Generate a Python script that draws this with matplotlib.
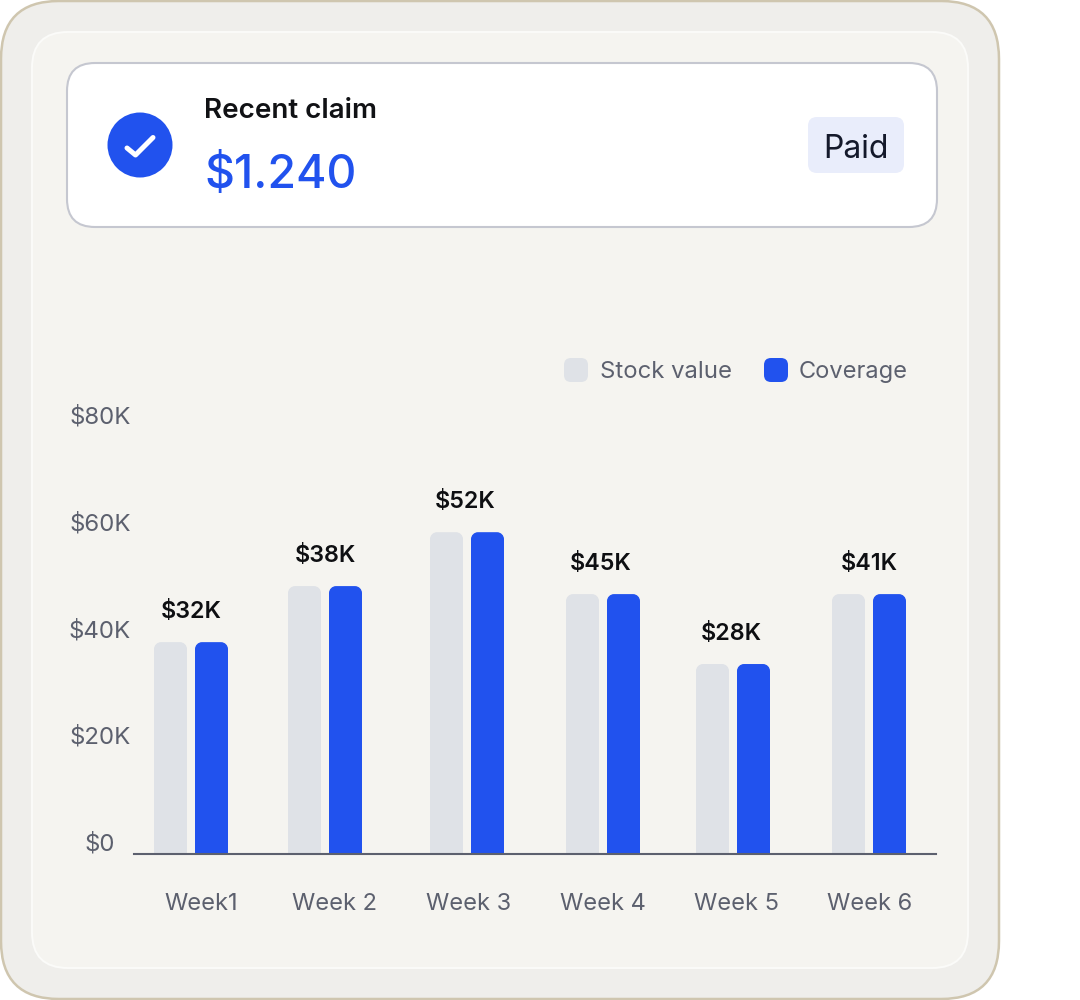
import matplotlib
matplotlib.use('Agg')
import matplotlib.pyplot as plt
from matplotlib.patches import FancyBboxPatch, Circle, PathPatch
from matplotlib.path import Path
from matplotlib.transforms import ScaledTranslation

# chart values
weeks = ['Week1', 'Week 2', 'Week 3', 'Week 4', 'Week 5', 'Week 6']
stock_value = [39.6, 50.1, 60.2, 48.6, 35.5, 48.6]
coverage = [39.6, 50.1, 60.2, 48.6, 35.5, 48.6]
bar_labels = ['$32K', '$38K', '$52K', '$45K', '$28K', '$41K']
y_ticks = [0, 20, 40, 60, 80]
y_labels = ['$0', '$20K', '$40K', '$60K', '$80K']

# layout in pixels
W, H = 1080, 1000
bar_centre_x = [191, 325, 467, 603, 733, 869]
value_label_x = [191, 325, 465, 601, 731, 869]
week_label_x = [201, 335, 468.5, 602.5, 736, 869.5]
bar_w = 33
gap = 8
base_y = 853.5
px_per_k = 5.3375
y_max = 85

BLUE = '#2152EE'
GREY_BAR = '#DFE2E7'
TEXT_GREY = '#5C606E'
FONT = 'Inter'

plt.rcParams['font.family'] = [FONT, 'DejaVu Sans']

fig = plt.figure(figsize=(W / 100, H / 100), dpi=100, facecolor='white')

# background cards, drawn in pixel coordinates
bg = fig.add_axes([0, 0, 1, 1])
bg.set_xlim(0, W)
bg.set_ylim(H, 0)
bg.axis('off')


def card(x0, y0, x1, y1, r, face, edge, lw=1.5):
    bg.add_patch(FancyBboxPatch((x0 + r, y0 + r), x1 - x0 - 2 * r, y1 - y0 - 2 * r,
                                boxstyle='round,pad=%f,rounding_size=%f' % (r, r),
                                fc=face, ec=edge, lw=lw))


card(1, 1, 999, 999, 58, '#EFEEEB', '#CFC6AF', 1.8)
card(32, 32, 968, 968, 36, '#F5F4F0', '#FBFBF9', 1.4)
card(67, 63, 937, 227, 28, 'white', '#C5C7D0', 1.5)
card(808, 117, 904, 173, 9, '#E9EDFB', 'none', 0)

# check icon
bg.add_patch(Circle((140, 145), 32.5, fc=BLUE, ec='none'))
bg.plot([127, 135.5, 153], [148, 155, 137.5], color='white', lw=3.6,
        solid_capstyle='round', solid_joinstyle='round')

bg.text(204, 111, 'Recent claim', fontsize=20, fontweight='semibold', color='#111215',
        ha='left', va='center')
bg.text(204, 176, '$1.240', fontsize=33.4, fontweight='medium', color=BLUE, ha='left', va='center')
bg.text(856, 149, 'Paid', fontsize=23, color='#14192B', ha='center', va='center')

# legend
card(564, 358, 588, 382, 7, GREY_BAR, 'none', 0)
card(764, 358, 788, 382, 7, BLUE, 'none', 0)
bg.text(600, 372, 'Stock value', fontsize=17.2, color=TEXT_GREY, ha='left', va='center')
bg.text(799, 372, 'Coverage', fontsize=17, color=TEXT_GREY, ha='left', va='center')

# chart axes, x runs in pixels so the uneven bar groups stay put
ax_left, ax_right = 134, 936
ax_h = y_max * px_per_k
ax = fig.add_axes([ax_left / W, (H - base_y) / H, (ax_right - ax_left) / W, ax_h / H])
ax.patch.set_alpha(0)
ax.set_xlim(ax_left, ax_right)
ax.set_ylim(0, y_max)


def rounded_bar(x0, width, value, color, r=7):
    ry = r / px_per_k
    k = 0.45
    verts = [(x0, 0), (x0, value - ry),
             (x0, value - ry * k), (x0 + r * k, value), (x0 + r, value),
             (x0 + width - r, value),
             (x0 + width - r * k, value), (x0 + width, value - ry * k), (x0 + width, value - ry),
             (x0 + width, 0), (x0, 0)]
    codes = [Path.MOVETO, Path.LINETO,
             Path.CURVE4, Path.CURVE4, Path.CURVE4,
             Path.LINETO,
             Path.CURVE4, Path.CURVE4, Path.CURVE4,
             Path.LINETO, Path.CLOSEPOLY]
    ax.add_patch(PathPatch(Path(verts, codes), fc=color, ec='none', zorder=2))


for cx, tx, s, c, lab in zip(bar_centre_x, value_label_x, stock_value, coverage, bar_labels):
    rounded_bar(cx - gap / 2 - bar_w, bar_w, s, GREY_BAR)
    rounded_bar(cx + gap / 2, bar_w, c, BLUE)
    ax.annotate(lab, (tx, max(s, c)), xytext=(0, 30 * 0.72), textcoords='offset points',
                ha='center', va='center', fontsize=16.8, fontweight='semibold', color='#0E0F12')

for side in ['top', 'left', 'right']:
    ax.spines[side].set_visible(False)
ax.spines['bottom'].set_color(TEXT_GREY)
ax.spines['bottom'].set_linewidth(1.5)
ax.spines['bottom'].set_zorder(3)

ax.set_xticks(week_label_x)
ax.set_xticklabels(weeks)
ax.set_yticks(y_ticks)
ax.set_yticklabels(y_labels)
ax.tick_params(axis='x', length=0, pad=28.7, labelsize=17, labelcolor=TEXT_GREY)
ax.tick_params(axis='y', length=0, pad=24.5, labelsize=17.3, labelcolor=TEXT_GREY)
for t in ax.get_yticklabels():
    t.set_ha('center')
    t.set_transform(t.get_transform() + ScaledTranslation(0, 11.5 / 100, fig.dpi_scale_trans))

fig.savefig('out.png', dpi=100, facecolor='white')
